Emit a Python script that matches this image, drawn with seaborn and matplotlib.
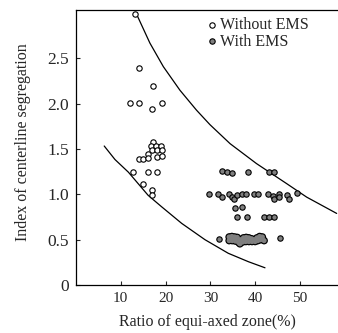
"""
centerline segregation vs ratio of equi-axed zone, with / without EMS
"""

import pandas as pd
import seaborn as sns
import matplotlib.pyplot as plt

# without EMS (open circles)
wo_x = [13.2, 14.1, 17.2, 12.05, 14.1, 17.0, 19.1,
        17.3, 16.7, 17.9, 18.9, 17.0, 18.1, 19.3, 16.1, 18.1, 19.3,
        14.1, 15.0, 16.0, 12.8, 16.0, 18.0, 14.9, 16.9, 16.9]
wo_y = [2.99, 2.40, 2.20, 2.005, 2.005, 1.946, 2.005,
        1.58, 1.534, 1.534, 1.534, 1.49, 1.49, 1.49, 1.45, 1.416, 1.424,
        1.387, 1.39, 1.40, 1.25, 1.25, 1.25, 1.12, 1.05, 0.99]

# with EMS (grey circles)
ems_x = [32.5, 33.8, 34.9, 38.5, 43.1, 44.2,
         29.8, 31.8, 32.5, 34.2, 34.8, 35.3, 36.0, 37.0, 37.9, 39.7, 40.7,
         42.9, 44.0, 44.2, 45.3, 45.3, 47.2, 47.5, 49.4,
         35.6, 37.0,
         35.9, 38.2, 42.0, 43.1, 44.2,
         31.9, 45.5]
ems_y = [1.258, 1.244, 1.240, 1.25, 1.244, 1.25,
         1.004, 1.004, 0.967, 1.004, 0.967, 0.945, 0.993, 1.004, 1.004, 1.004,
         1.004, 1.004, 0.982, 0.945, 1.004, 0.967, 0.993, 0.945, 1.019,
         0.853, 0.864,
         0.754, 0.747, 0.754, 0.754, 0.754,
         0.504, 0.515]

# dense EMS cluster around 0.5 (drawn merged)
blob_x = [34.2, 34.8, 35.4, 36.0, 36.7, 37.4, 38.0, 38.6, 39.2, 39.8, 40.4,
          41.0, 41.6, 42.0,
          34.2, 34.9, 35.6, 36.3, 36.6, 37.2, 37.9, 38.6, 39.3, 40.0, 40.6,
          41.2]
blob_y = [0.53, 0.535, 0.53, 0.525, 0.50, 0.52, 0.525, 0.52, 0.51, 0.50, 0.52,
          0.535, 0.53, 0.49,
          0.49, 0.49, 0.485, 0.47, 0.455, 0.475, 0.48, 0.48, 0.48, 0.48, 0.49,
          0.50]

# envelope curves
upper_x = [13.7, 16.5, 19.5, 23.2, 26.9, 29.9, 34.4, 40.3, 47.0, 51.5, 58.2]
upper_y = [2.97, 2.67, 2.41, 2.15, 1.93, 1.77, 1.56, 1.34, 1.12, 0.97, 0.79]
lower_x = [6.3, 8.7, 11.7, 16.1, 19.1, 23.6, 28.8, 34.0, 38.5, 42.2]
lower_y = [1.534, 1.385, 1.245, 0.99, 0.864, 0.68, 0.50, 0.35, 0.257, 0.19]

x_ticks = [10, 20, 30, 40, 50]
y_ticks = [0, 0.5, 1.0, 1.5, 2.0, 2.5]
y_tick_labels = ["0", "0.5", "1.0", "1.5", "2.0", "2.5"]

sns.set_style("ticks")
plt.rcParams["font.family"] = ["Liberation Serif", "DejaVu Serif"]

fig = plt.figure(figsize=(3.38, 3.33), dpi=100)
ax = fig.add_axes([76 / 338, 48 / 333, 262 / 338, 275 / 333])

d_up = pd.DataFrame({"x": upper_x, "y": upper_y})
d_lo = pd.DataFrame({"x": lower_x, "y": lower_y})
sns.lineplot(data=d_up, x="x", y="y", color="black", linewidth=0.9, ax=ax)
sns.lineplot(data=d_lo, x="x", y="y", color="black", linewidth=0.9, ax=ax)

grey = "#7f7f7f"
sns.scatterplot(x=wo_x, y=wo_y, color="white", edgecolor="black",
                linewidth=0.8, s=15, ax=ax, label="Without EMS", zorder=3)
sns.scatterplot(x=ems_x, y=ems_y, color=grey, edgecolor="black",
                linewidth=0.8, s=15, ax=ax, label="With EMS", zorder=3)
# merged cluster: black underlay + grey on top gives a single outline
sns.scatterplot(x=blob_x, y=blob_y, color="black", edgecolor="none",
                s=30, ax=ax, legend=False, zorder=3)
sns.scatterplot(x=blob_x, y=blob_y, color=grey, edgecolor="none",
                s=14, ax=ax, legend=False, zorder=4)

ax.set_xlim(0, 58.5)
ax.set_ylim(0, 3.035)
ax.set_xticks(x_ticks)
ax.set_yticks(y_ticks)
ax.set_yticklabels(y_tick_labels)
ax.tick_params(direction="in", length=3, width=0.8, labelsize=11, pad=5)
ax.tick_params(axis="y", labelsize=12.5)
for side in ["left", "top", "bottom"]:
    ax.spines[side].set_linewidth(0.9)
    ax.spines[side].set_color("black")
ax.spines["right"].set_visible(False)

ax.set_xlabel("Ratio of equi-axed zone(%)", fontsize=11.5)
ax.set_ylabel("Index of centerline segregation", fontsize=11.5)
ax.xaxis.set_label_coords(0.5, -0.105)
ax.yaxis.set_label_coords(-0.17, 0.52)

leg = ax.legend(loc="upper left", bbox_to_anchor=(0.49, 0.975), frameon=False,
                fontsize=11.5, handletextpad=0.0, labelspacing=0.05,
                borderpad=0, borderaxespad=0, handlelength=1.0)

fig.savefig("out.png", dpi=100)
